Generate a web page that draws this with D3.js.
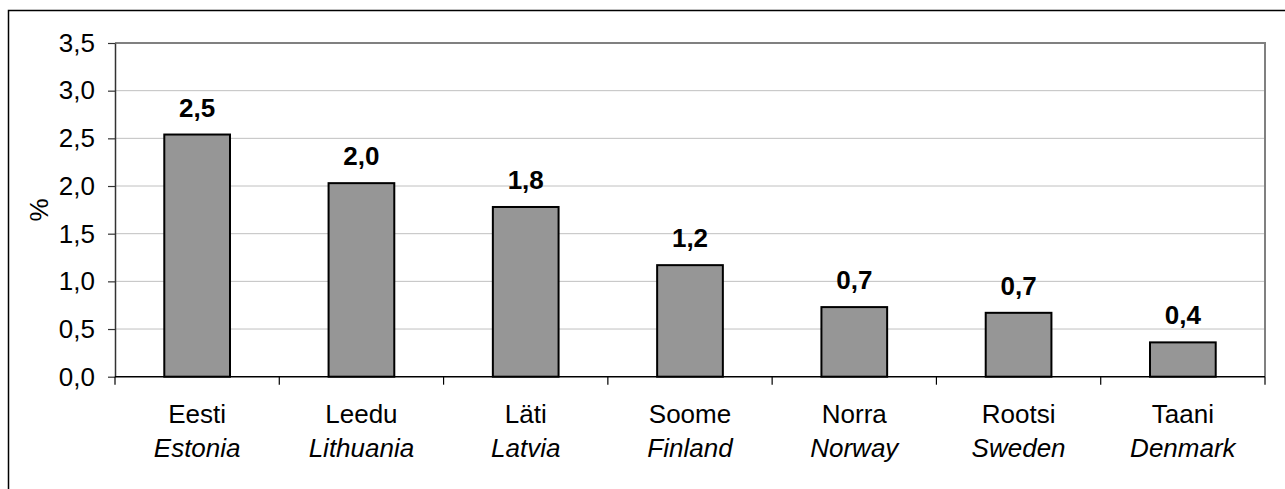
<!DOCTYPE html>
<html><head><meta charset="utf-8">
<script src="https://cdn.jsdelivr.net/npm/d3@7"></script>
<style>html,body{margin:0;padding:0;background:#fff;}</style>
</head><body>
<svg id="c" width="1285" height="489"></svg>
<script>
const categoriesEt = ["Eesti","Leedu","Läti","Soome","Norra","Rootsi","Taani"];
const categoriesEn = ["Estonia","Lithuania","Latvia","Finland","Norway","Sweden","Denmark"];
const values = [2.54, 2.03, 1.78, 1.17, 0.73, 0.67, 0.36];
const valueLabels = ["2,5","2,0","1,8","1,2","0,7","0,7","0,4"];
const yTicks = [0,0.5,1,1.5,2,2.5,3,3.5];
const yTitle = "%";

const svg = d3.select("#c");
const font = "Arial, 'Liberation Sans', sans-serif";
const FS = 26;
const L=115, R=1265, T=43, B=376.7;

svg.append("rect").attr("x",8.5).attr("y",10.5).attr("width",1300).attr("height",500)
  .attr("fill","none").attr("stroke","#000").attr("stroke-width",1.5);

const x = d3.scaleBand().domain(categoriesEt).range([L,R]).paddingInner(0.6).paddingOuter(0.3);
const y = d3.scaleLinear().domain([0,3.5]).range([B,T]);

// gridlines
svg.append("g").selectAll("line").data(yTicks.filter(d=>d>0 && d<3.5)).join("line")
  .attr("x1",L).attr("x2",R).attr("y1",d=>y(d)).attr("y2",d=>y(d))
  .attr("stroke","#c0c0c0").attr("stroke-width",1);

// plot border top/right
svg.append("path").attr("d",`M${L},${T}H${R}V${B}`).attr("fill","none")
  .attr("stroke","#808080").attr("stroke-width",2);

// bars
svg.append("g").selectAll("rect").data(values).join("rect")
  .attr("x",(d,i)=>x(categoriesEt[i])).attr("width",x.bandwidth())
  .attr("y",d=>y(d)).attr("height",d=>B-y(d))
  .attr("fill","#969696").attr("stroke","#000").attr("stroke-width",2);

// value labels
svg.append("g").selectAll("text").data(values).join("text")
  .attr("x",(d,i)=>x(categoriesEt[i])+x.bandwidth()/2).attr("y",d=>y(d)-18)
  .attr("text-anchor","middle").attr("font-family",font).attr("font-weight","bold")
  .attr("font-size",FS).text((d,i)=>valueLabels[i]);

// y axis
const yAxis = d3.axisLeft(y).tickValues(yTicks).tickSize(7).tickSizeOuter(0)
  .tickFormat(d=>d3.format(".1f")(d).replace(".",","));
const gy = svg.append("g").attr("transform",`translate(${L},0)`).call(yAxis);
gy.select(".domain").attr("stroke","#333").attr("stroke-width",1.5);
gy.selectAll(".tick line").attr("stroke","#333").attr("stroke-width",1.2);
gy.selectAll(".tick text").attr("font-family",font).attr("font-size",FS).attr("fill","#000").attr("x",-20);

// x axis
svg.append("line").attr("x1",L).attr("x2",R).attr("y1",B).attr("y2",B).attr("stroke","#000").attr("stroke-width",1.5);
const step = x.step();
const bounds = d3.range(categoriesEt.length+1).map(i=> i===categoriesEt.length ? R : x(categoriesEt[i]) - step*0.3);
svg.append("g").selectAll("line").data(bounds).join("line")
  .attr("x1",d=>d).attr("x2",d=>d).attr("y1",B).attr("y2",B+8).attr("stroke","#000").attr("stroke-width",1.2);

const gx = svg.append("g").selectAll("g").data(categoriesEt).join("g")
  .attr("transform",d=>`translate(${x(d)+x.bandwidth()/2},0)`);
gx.append("text").attr("y",423).attr("text-anchor","middle").attr("font-family",font)
  .attr("font-size",FS).text(d=>d);
gx.append("text").attr("y",457).attr("text-anchor","middle").attr("font-family",font)
  .attr("font-size",FS).attr("font-style","italic").text((d,i)=>categoriesEn[i]);

// y title
svg.append("text").attr("transform",`translate(48,${(T+B)/2}) rotate(-90)`)
  .attr("text-anchor","middle").attr("font-family",font).attr("font-size",FS).text(yTitle);
</script>
</body></html>
